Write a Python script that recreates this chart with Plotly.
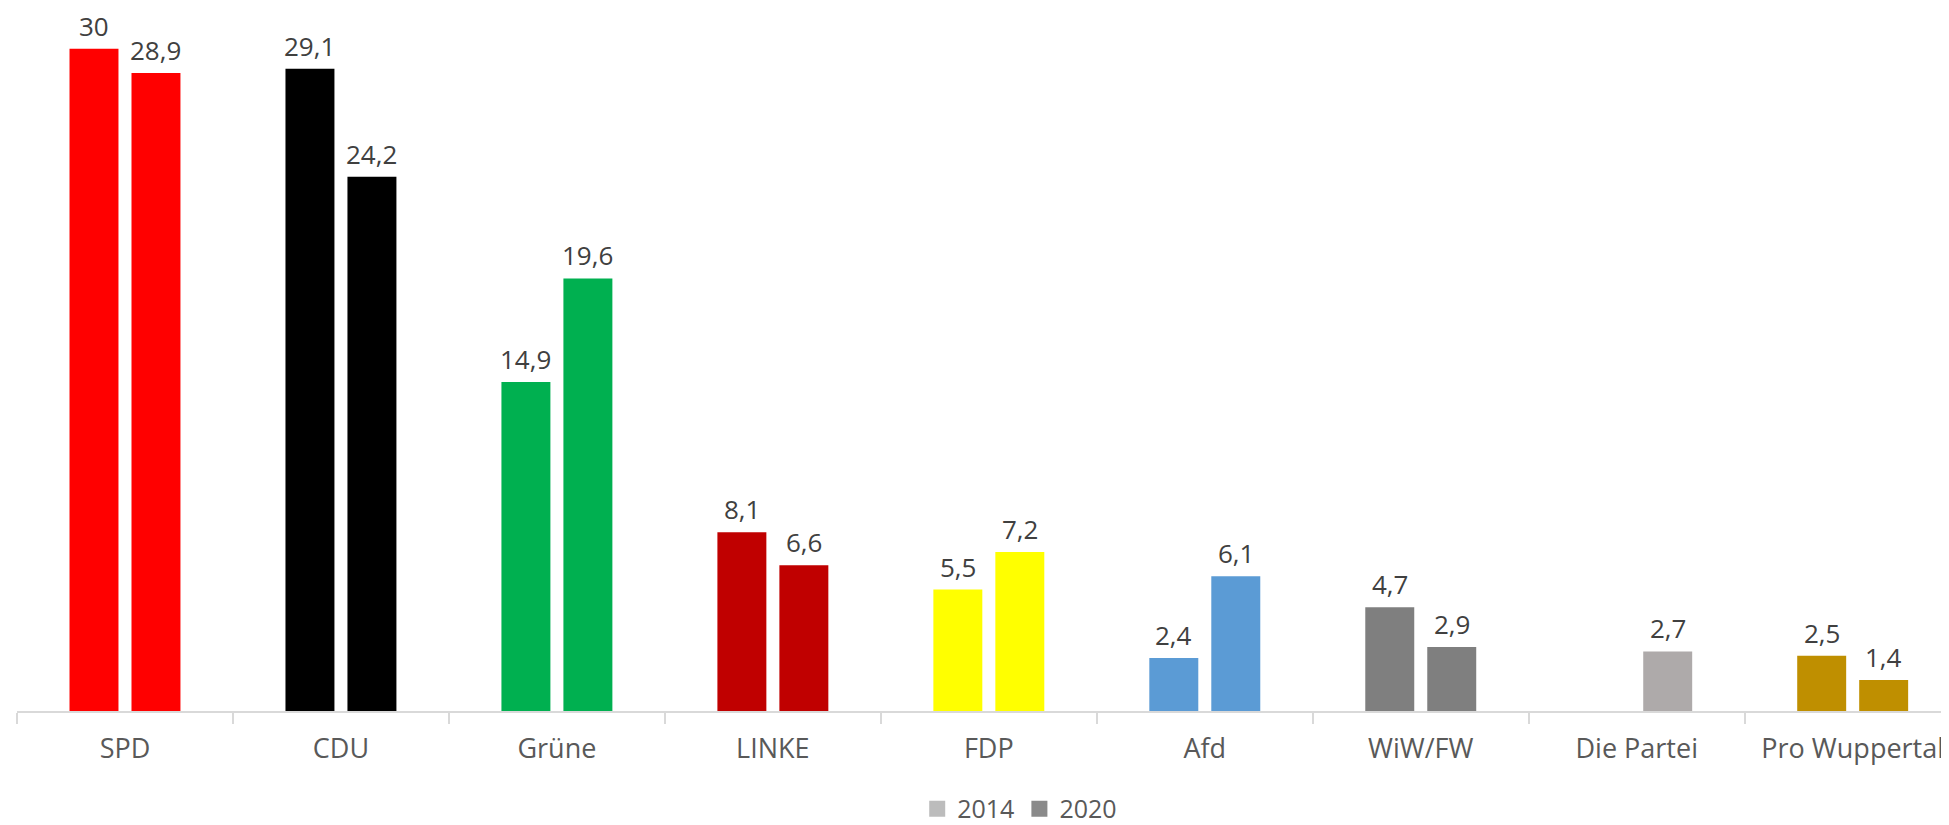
import plotly.graph_objs as go

# Kommunalwahl Wuppertal, Stimmenanteile in %
parteien = ['SPD', 'CDU', 'Grüne', 'LINKE', 'FDP', 'Afd', 'WiW/FW', 'Die Partei', 'Pro Wuppertal']
werte_2014 = [30, 29.1, 14.9, 8.1, 5.5, 2.4, 4.7, None, 2.5]
werte_2020 = [28.9, 24.2, 19.6, 6.6, 7.2, 6.1, 2.9, 2.7, 1.4]
farben = ['#FF0000', '#000000', '#00B050', '#C00000', '#FFFF00',
          '#5B9BD5', '#7F7F7F', '#AEAAAA', '#BF8F00']


def label(v):
    return str(v).replace('.', ',')


fig = go.Figure()

for name, werte in [('2014', werte_2014), ('2020', werte_2020)]:
    fig.add_trace(go.Bar(
        x=parteien, y=werte, name=name,
        marker=dict(color=farben, line=dict(width=0)),
        showlegend=False))

# data labels, a bit above the bars like in excel
for werte, shift in [(werte_2014, -31), (werte_2020, 31)]:
    for p, v in zip(parteien, werte):
        if v is None:
            continue
        fig.add_annotation(x=p, y=v, text=label(v), showarrow=False,
                           xshift=shift, yshift=4, yanchor='bottom', borderpad=0,
                           font=dict(size=26, color='#404040'))

# legend entries in grey like the original
for name, col in [('2014', '#BCBCBC'), ('2020', '#8A8A8A')]:
    fig.add_trace(go.Scatter(
        x=[None], y=[None], name=name, mode='markers',
        marker=dict(symbol='square', size=18, color=col)))

# page has 8px body margin, so margins are compensated
fig.update_layout(
    width=1949, height=825,
    margin=dict(l=9, r=8, t=0, b=122, autoexpand=False),
    plot_bgcolor='white', paper_bgcolor='white',
    font=dict(family='Open Sans', color='#595959'),
    barmode='group', bargap=0.426, bargroupgap=0.21,
    legend=dict(orientation='h', x=0.519, xanchor='center', y=-0.1394, yanchor='middle',
                font=dict(size=25, color='#595959'), itemwidth=30),
)
fig.update_xaxes(
    range=[-0.5, 8.446], showline=True, linecolor='#D9D9D9', linewidth=2,
    ticks='outside', tickson='boundaries', ticklen=11, tickcolor='#D9D9D9', tickwidth=2,
    ticklabelstandoff=13,
    tickfont=dict(size=27, color='#595959'), showgrid=False, automargin=False)
fig.update_yaxes(range=[0, 31.85], visible=False, showgrid=False, zeroline=False,
                 automargin=False)

fig.write_html('out.html')
